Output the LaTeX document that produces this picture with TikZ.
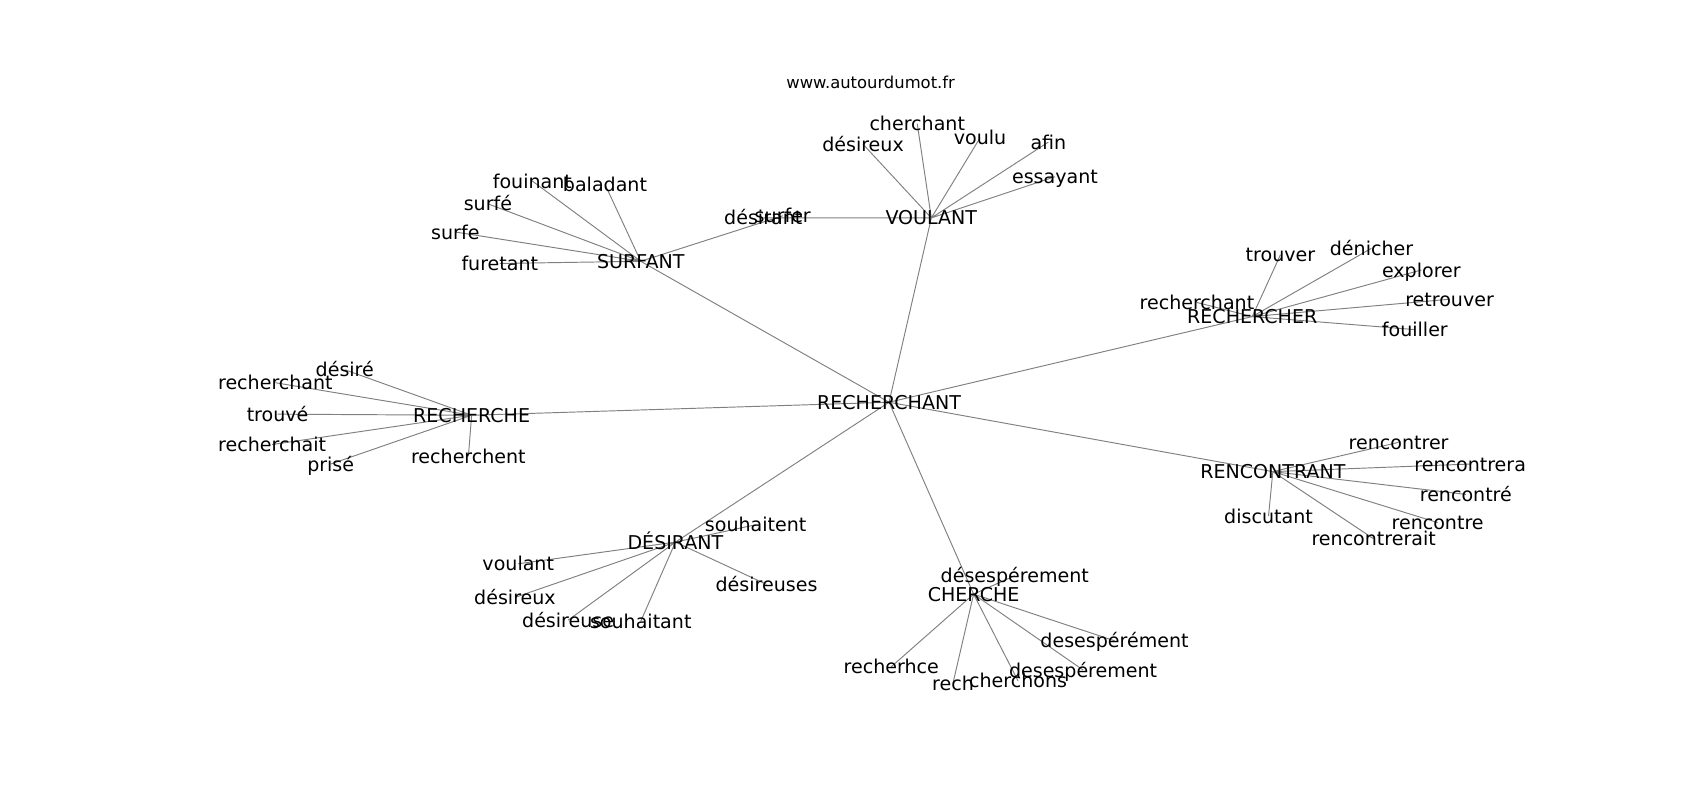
\documentclass[tikz,border=0pt]{standalone}
\usepackage{fontspec}
\setmainfont{DejaVu Sans}
\usetikzlibrary{backgrounds}

\begin{document}
\begin{tikzpicture}[
    x=0.02cm, y=-0.02cm,
    word/.style = {inner sep=0pt, font=\fontsize{10}{12}\selectfont, text height=0.84em, text depth=0.1em},
    link/.style = {draw=gray, line width=0.5pt}
  ]
  \useasboundingbox (0,0) rectangle (1568,738);
  % Title
  \node[inner sep=0pt, font=\fontsize{8.6}{10}\selectfont] (site) at (803,76) {www.autourdumot.fr};
  % Centre and hubs
  \node[word] (rechant) at (820,371) {RECHERCHANT};
  \node[word] (voulant) at (859,201) {VOULANT};
  \node[word] (surfant) at (591,241) {SURFANT};
  \node[word] (rechercher) at (1155,292) {RECHERCHER};
  \node[word] (recherche) at (435,383) {RECHERCHE};
  \node[word] (rencontrant) at (1174,435) {RENCONTRANT};
  \node[word] (desirant) at (623,500) {DÉSIRANT};
  \node[word] (cherche) at (898,548) {CHERCHE};
  % Voulant
  \node[word] (v1) at (846,114) {cherchant};
  \node[word] (v2) at (796,133) {désireux};
  \node[word] (v3) at (904,127) {voulu};
  \node[word] (v4) at (967,131) {afin};
  \node[word] (v5) at (973,163) {essayant};
  \node[word] (v6) at (704,201) {désirant};
  % Surfant
  \node[word] (s1) at (491,167) {fouinant};
  \node[word] (s2) at (558,170) {baladant};
  \node[word] (s3) at (450,188) {surfé};
  \node[word] (s4) at (420,214) {surfe};
  \node[word] (s5) at (461,243) {furetant};
  \node[word] (s6) at (722,199) {surfer};
  % Rechercher
  \node[word] (r1) at (1181,235) {trouver};
  \node[word] (r2) at (1265,229) {dénicher};
  \node[word] (r3) at (1311,249) {explorer};
  \node[word] (r4) at (1337,276) {retrouver};
  \node[word] (r5) at (1305,304) {fouiller};
  \node[word] (r6) at (1104,279) {recherchant};
  % Recherche
  \node[word] (e1) at (318,341) {désiré};
  \node[word] (e2) at (254,353) {recherchant};
  \node[word] (e3) at (256,382) {trouvé};
  \node[word] (e4) at (251,410) {recherchait};
  \node[word] (e5) at (305,428) {prisé};
  \node[word] (e6) at (432,421) {recherchent};
  % Rencontrant
  \node[word] (n1) at (1290,408) {rencontrer};
  \node[word] (n2) at (1356,428) {rencontrera};
  \node[word] (n3) at (1352,456) {rencontré};
  \node[word] (n4) at (1326,482) {rencontre};
  \node[word] (n5) at (1267,497) {rencontrerait};
  \node[word] (n6) at (1170,476) {discutant};
  % Desirant
  \node[word] (d1) at (697,484) {souhaitent};
  \node[word] (d2) at (478,520) {voulant};
  \node[word] (d3) at (475,551) {désireux};
  \node[word] (d4) at (524,572) {désireuse};
  \node[word] (d5) at (591,573) {souhaitant};
  \node[word] (d6) at (707,539) {désireuses};
  % Cherche
  \node[word] (c1) at (936,531) {désespérement};
  \node[word] (c2) at (822,615) {recherhce};
  \node[word] (c3) at (879,630) {rech};
  \node[word] (c4) at (939,628) {cherchons};
  \node[word] (c5) at (1028,591) {desespérément};
  \node[word] (c6) at (999,618) {desespérement};
  % Edges
  \begin{pgfonlayer}{background}
    \draw[link] (rechant.center) -- (voulant.center) (rechant.center) -- (surfant.center)
      (rechant.center) -- (rechercher.center) (rechant.center) -- (recherche.center)
      (rechant.center) -- (rencontrant.center) (rechant.center) -- (desirant.center)
      (rechant.center) -- (cherche.center);
    \draw[link] (voulant.center) -- (v1.center) (voulant.center) -- (v2.center)
      (voulant.center) -- (v3.center) (voulant.center) -- (v4.center)
      (voulant.center) -- (v5.center) (voulant.center) -- (v6.center);
    \draw[link] (surfant.center) -- (s1.center) (surfant.center) -- (s2.center)
      (surfant.center) -- (s3.center) (surfant.center) -- (s4.center)
      (surfant.center) -- (s5.center) (surfant.center) -- (s6.center);
    \draw[link] (rechercher.center) -- (r1.center) (rechercher.center) -- (r2.center)
      (rechercher.center) -- (r3.center) (rechercher.center) -- (r4.center)
      (rechercher.center) -- (r5.center) (rechercher.center) -- (r6.center);
    \draw[link] (recherche.center) -- (e1.center) (recherche.center) -- (e2.center)
      (recherche.center) -- (e3.center) (recherche.center) -- (e4.center)
      (recherche.center) -- (e5.center) (recherche.center) -- (e6.center);
    \draw[link] (rencontrant.center) -- (n1.center) (rencontrant.center) -- (n2.center)
      (rencontrant.center) -- (n3.center) (rencontrant.center) -- (n4.center)
      (rencontrant.center) -- (n5.center) (rencontrant.center) -- (n6.center);
    \draw[link] (desirant.center) -- (d1.center) (desirant.center) -- (d2.center)
      (desirant.center) -- (d3.center) (desirant.center) -- (d4.center)
      (desirant.center) -- (d5.center) (desirant.center) -- (d6.center);
    \draw[link] (cherche.center) -- (c1.center) (cherche.center) -- (c2.center)
      (cherche.center) -- (c3.center) (cherche.center) -- (c4.center)
      (cherche.center) -- (c5.center) (cherche.center) -- (c6.center);
  \end{pgfonlayer}
\end{tikzpicture}
\end{document}
